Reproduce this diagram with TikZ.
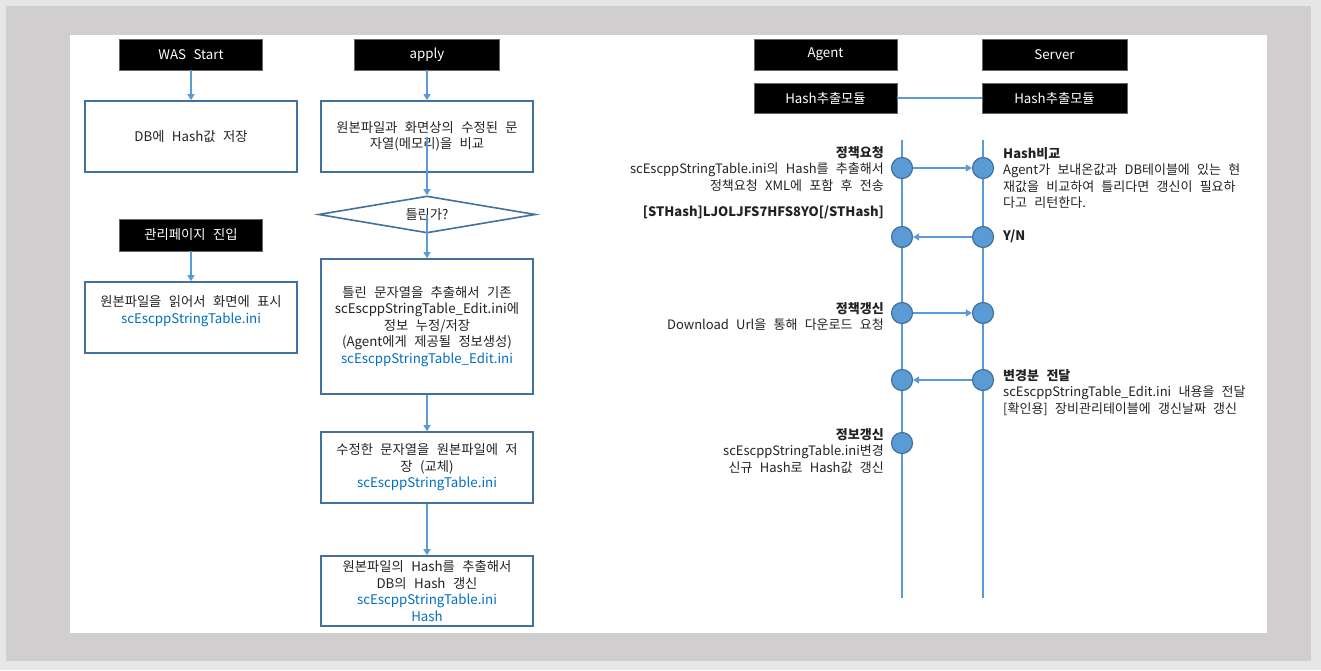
\documentclass[tikz,border=0pt]{standalone}
\usepackage{fontspec}
\setmainfont{Noto Sans CJK KR}[WordSpace=2.5]
\usepackage{tikz}
\usetikzlibrary{shapes.geometric, arrows.meta}
\definecolor{PageEdge}{RGB}{231, 230, 230}
\definecolor{PageGrey}{RGB}{208, 206, 206}
\definecolor{BoxBlue}{RGB}{65, 113, 156}
\definecolor{LineBlue}{RGB}{91, 155, 213}
\definecolor{FileBlue}{RGB}{0, 112, 192}
\definecolor{InkGrey}{RGB}{35, 35, 35}

\tikzset{
  titlebox/.style={fill=black, draw=black!60, text=white, minimum width=143pt, minimum height=31pt, inner sep=0, font=\fontsize{13.3}{16}\selectfont},
  stepbox/.style={draw=BoxBlue, line width=1.6pt, fill=white, text=InkGrey, align=center, minimum width=212pt, inner sep=0, font=\fontsize{13.3}{16.5}\selectfont},
  diffbox/.style={diamond, draw=BoxBlue, line width=1.6pt, fill=white, text=InkGrey, minimum width=217pt, minimum height=37pt, aspect=5.8, inner sep=0, font=\fontsize{13.3}{16.5}\selectfont},
  flow/.style={LineBlue, line width=1.3pt, -{Triangle[width=7pt,length=6pt]}},
  lifeline/.style={LineBlue, line width=1.1pt},
  dot/.style={circle, fill=LineBlue, draw=BoxBlue, line width=1.2pt, minimum size=21pt, inner sep=0},
  note/.style={inner sep=0, text=InkGrey, font=\fontsize{13}{16.5}\selectfont}
}

\begin{document}
\begin{tikzpicture}[x=1pt, y=-1pt]
    \useasboundingbox (0,0) rectangle (1321,670);
    \fill[PageEdge] (0,0) rectangle (1321,670);
    \fill[PageGrey] (6,6) rectangle (1311,661);
    \fill[white] (70,35) rectangle (1267,633);

    \node[titlebox] (was) at (191,54.5) {WAS Start};
    \node[stepbox, minimum height=71pt] (dbsave) at (191,136.5) {DB에 Hash값 저장};
    \node[titlebox, minimum height=32pt] (admin) at (191,235) {관리페이지 진입};
    \node[stepbox, minimum height=71pt] (readfile) at (191,317.5) {원본파일을 읽어서 화면에 표시\\\textcolor{FileBlue}{scEscppStringTable.ini}\\\mbox{}};
    \draw[flow] (was) -- (dbsave);
    \draw[flow] (admin) -- (readfile);

    \node[titlebox, minimum width=145pt] (apply) at (427,54.5) {apply};
    \node[stepbox, minimum height=71pt] (compare) at (427,136.5) {원본파일과 화면상의 수정된 문\\자열(메모리)을 비교};
    \node[diffbox] (differ) at (427,214.5) {틀린가?};
    \node[stepbox, minimum height=135pt] (extract) at (427,326.5) {틀린 문자열을 추출해서 기존\\scEscppStringTable\_Edit.ini에\\정보 누정/저장\\(Agent에게 제공될 정보생성)\\\textcolor{FileBlue}{scEscppStringTable\_Edit.ini}};
    \node[stepbox, minimum height=71pt] (replace) at (427,467.5) {수정한 문자열을 원본파일에 저\\장 (교체)\\\textcolor{FileBlue}{scEscppStringTable.ini}};
    \node[stepbox, minimum height=70pt] (rehash) at (427,591) {원본파일의 Hash를 추출해서\\DB의 Hash 갱신\\\textcolor{FileBlue}{scEscppStringTable.ini}\\\textcolor{FileBlue}{Hash}};
    \draw[flow] (apply) -- (compare);
    \draw[flow] (compare.center) -- (differ.north);
    \draw[flow] (differ.center) -- (extract.north);
    \draw[flow] (extract) -- (replace);
    \draw[flow] (replace) -- (rehash);

    \node[titlebox] (agent) at (825.5,54.5) {Agent};
    \node[titlebox, minimum width=145pt] (server) at (1054.5,54.5) {Server};
    \node[titlebox, minimum height=30pt] (agenthash) at (825.5,98) {Hash추출모듈};
    \node[titlebox, minimum width=145pt, minimum height=30pt] (serverhash) at (1054.5,98) {Hash추출모듈};
    \draw[lifeline] (agenthash) -- (serverhash);

    \coordinate (agenttop) at (902,140);
    \coordinate (agentend) at (902,598);
    \coordinate (servertop) at (983,140);
    \coordinate (serverend) at (983,598);
    \draw[lifeline] (agenttop) -- (agentend);
    \draw[lifeline] (servertop) -- (serverend);

    \foreach \n/\y in {1/168, 2/237, 3/313, 4/380} {
        \node[dot] (a\n) at (902,\y) {};
        \node[dot] (s\n) at (983,\y) {};
    }
    \node[dot] (a5) at (902,443) {};
    \draw[flow] (a1) -- (s1);
    \draw[flow] (s2) -- (a2);
    \draw[flow] (a3) -- (s3);
    \draw[flow] (s4) -- (a4);

    \node[note, align=right, anchor=north east] (request) at (884,146) {\textbf{정책요청}\\scEscppStringTable.ini의 Hash를 추출해서\\정책요청 XML에 포함 후 전송\\[10pt]\textbf{[STHash]LJOLJFS7HFS8YO[/STHash]}};
    \node[note, align=left, anchor=north west] (hashcmp) at (1003,147) {\textbf{Hash비교}\\Agent가 보내온값과 DB테이블에 있는 현\\재값을 비교하여 틀리다면 갱신이 필요하\\다고 리턴한다.};
    \node[note, anchor=west] (yesno) at (1003,236) {\textbf{Y/N}};
    \node[note, align=right, anchor=north east] (policy) at (884,302) {\textbf{정책갱신}\\Download Url을 통해 다운로드 요청};
    \node[note, align=left, anchor=north west] (delta) at (1003,369) {\textbf{변경분 전달}\\scEscppStringTable\_Edit.ini 내용을 전달\\{[확인용]} 장비관리테이블에 갱신날짜 갱신};
    \node[note, align=right, anchor=north east] (renew) at (884,428) {\textbf{정보갱신}\\scEscppStringTable.ini변경\\신규 Hash로 Hash값 갱신};
\end{tikzpicture}
\end{document}
